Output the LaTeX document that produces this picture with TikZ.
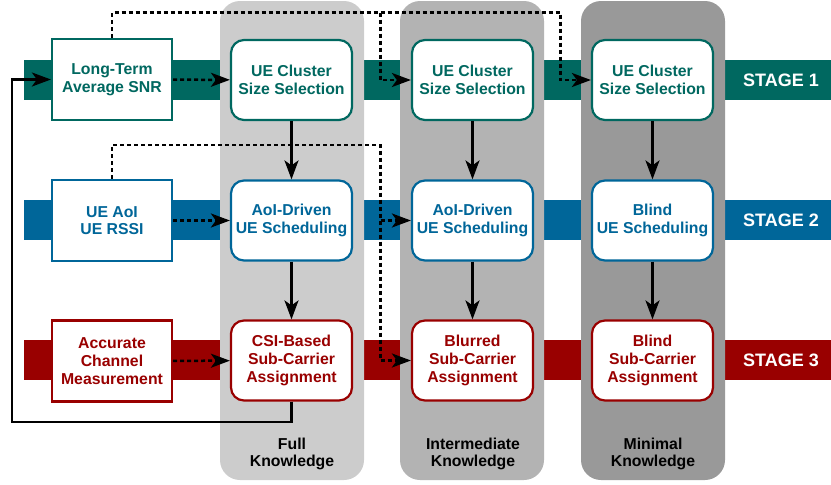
\documentclass[tikz,border=0pt]{standalone}
\usepackage{fontspec}
\setmainfont{Liberation Sans}
\usetikzlibrary{arrows.meta}
\definecolor{stA}{RGB}{0,104,96}
\definecolor{stB}{RGB}{0,102,153}
\definecolor{stC}{RGB}{153,0,0}
\definecolor{gA}{RGB}{204,204,204}
\definecolor{gB}{RGB}{179,179,179}
\definecolor{gC}{RGB}{153,153,153}
\begin{document}
\begin{tikzpicture}[x=1pt,y=-1pt,
  txt/.style={font=\bfseries\fontsize{15.8}{17.7}\selectfont, align=center},
  inbox/.style={txt, draw=#1, text=#1, fill=white, line width=2.2pt, minimum width=120pt, minimum height=81pt, inner sep=0pt},
  procbox/.style={txt, draw=#1, text=#1, fill=white, line width=2.2pt, rounded corners=13pt, minimum width=121pt, minimum height=80pt, inner sep=0pt},
  stagelbl/.style={text=white, font=\bfseries\fontsize{18}{20}\selectfont, inner sep=0pt},
  knowl/.style={txt, text=black, inner sep=0pt},
  arr/.style={line width=2.3pt, -{Stealth[length=19pt,width=14pt,inset=5pt]}},
  darr/.style={arr, line width=2.5pt, dash pattern=on 4pt off 3pt},
]
\useasboundingbox (0,0) rectangle (831,485);
% stage bands
\fill[stA] (24,60) rectangle (831,100);
\fill[stB] (24,200) rectangle (831,240);
\fill[stC] (24,340) rectangle (831,380);
% knowledge columns
\fill[gA, rounded corners=20pt] (220,1) rectangle (364,480);
\fill[gB, rounded corners=20pt] (400,1) rectangle (544,480);
\fill[gC, rounded corners=20pt] (581,1) rectangle (725,480);
% stage labels
\node[stagelbl] (s1) at (781,80) {STAGE 1};
\node[stagelbl] (s2) at (781,220.5) {STAGE 2};
\node[stagelbl] (s3) at (781,360.5) {STAGE 3};
% knowledge labels
\node[knowl] (k1) at (292,454) {Full\\Knowledge};
\node[knowl] (k2) at (473,454) {Intermediate\\Knowledge};
\node[knowl] (k3) at (653,454) {Minimal\\Knowledge};
% input boxes
\node[inbox=stA] (snr) at (112,79.5) {Long-Term\\Average SNR};
\node[inbox=stB] (aoi) at (112,220.5) {UE AoI\\UE RSSI};
\node[inbox=stC] (acm) at (112,361) {Accurate\\Channel\\Measurement};
% process boxes
\node[procbox=stA] (c1a) at (291.5,80) {UE Cluster\\Size Selection};
\node[procbox=stB] (c1b) at (291.5,220.5) {AoI-Driven\\UE Scheduling};
\node[procbox=stC] (c1c) at (291.5,360.5) {CSI-Based\\Sub-Carrier\\Assignment};
\node[procbox=stA] (c2a) at (472.5,80) {UE Cluster\\Size Selection};
\node[procbox=stB] (c2b) at (472.5,220.5) {AoI-Driven\\UE Scheduling};
\node[procbox=stC] (c2c) at (472.5,360.5) {Blurred\\Sub-Carrier\\Assignment};
\node[procbox=stA] (c3a) at (652.5,80) {UE Cluster\\Size Selection};
\node[procbox=stB] (c3b) at (652.5,220.5) {Blind\\UE Scheduling};
\node[procbox=stC] (c3c) at (652.5,360.5) {Blind\\Sub-Carrier\\Assignment};
% junction coordinates
\coordinate (tj) at (380.5,12.5);
\coordinate (tk) at (560.5,12.5);
\coordinate (mj) at (380.5,145);
\coordinate (mb) at (380.5,220.5);
\coordinate (fb) at (12,422);
% vertical solid arrows
\draw[arr] (c1a) -- (c1b);
\draw[arr] (c1b) -- (c1c);
\draw[arr] (c2a) -- (c2b);
\draw[arr] (c2b) -- (c2c);
\draw[arr] (c3a) -- (c3b);
\draw[arr] (c3b) -- (c3c);
% dashed inputs
\draw[darr] (snr) -- (c1a);
\draw[darr] (aoi) -- (c1b);
\draw[darr] (acm) -- (c1c);
\draw[darr] (snr.north) |- (tj) |- (c2a.west);
\draw[darr] (tj) -- (tk) |- (c3a.west);
\draw[darr] (aoi.north) |- (mj) |- (c2c.west);
\draw[darr] (mb) -- (c2b.west);
% feedback
\draw[arr] (c1c.south) |- (fb) |- (snr.west);
\end{tikzpicture}
\end{document}
